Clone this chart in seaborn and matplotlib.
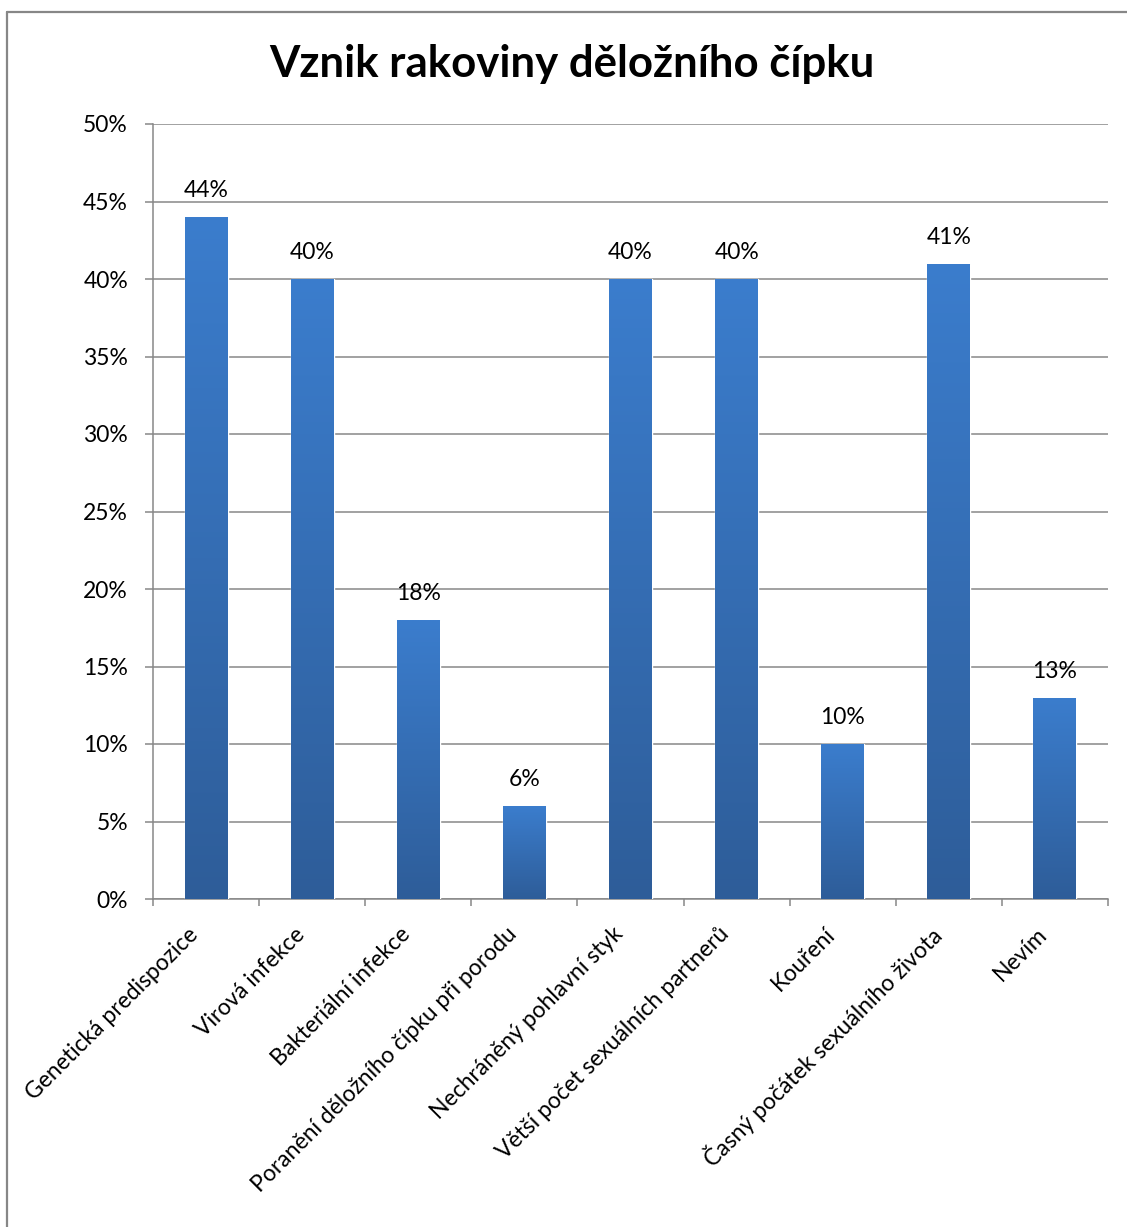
import numpy as np
import pandas as pd
import matplotlib
matplotlib.use("Agg")
import matplotlib.pyplot as plt
from matplotlib.lines import Line2D
from matplotlib.colors import LinearSegmentedColormap
from matplotlib.ticker import FixedLocator, PercentFormatter
import seaborn as sns

categories = [
    "Genetická predispozice",
    "Virová infekce",
    "Bakteriální infekce",
    "Poranění děložního čípku při porodu",
    "Nechráněný pohlavní styk",
    "Větší počet sexuálních partnerů",
    "Kouření",
    "Časný počátek sexuálního života",
    "Nevím",
]
values = [0.44, 0.40, 0.18, 0.06, 0.40, 0.40, 0.10, 0.41, 0.13]
value_labels = ["44%", "40%", "18%", "6%", "40%", "40%", "10%", "41%", "13%"]
title = "Vznik rakoviny děložního čípku"

sns.set_theme(style="white")
plt.rcParams["font.family"] = ["Lato", "DejaVu Sans"]

W, H = 1127, 1227
fig = plt.figure(figsize=(W / 100, H / 100), dpi=100)
ax = fig.add_axes([153 / W, 1 - 899 / H, (1108 - 153) / W, (899 - 124) / H])

df = pd.DataFrame({"cat": categories, "val": values})
sns.barplot(data=df, x="cat", y="val", ax=ax, color="#3471BA", width=0.405,
            saturation=1, zorder=3)

# vertical gradient per bar
cmap = LinearSegmentedColormap.from_list("g", ["#2E5D99", "#3B7DCD"])
grad = np.linspace(0, 1, 256).reshape(-1, 1)
for p in ax.patches:
    x0, y0 = p.get_x(), p.get_y()
    w, h = p.get_width(), p.get_height()
    im = ax.imshow(grad, cmap=cmap, aspect="auto", origin="lower",
                   extent=[x0, x0 + w, y0, y0 + h], zorder=4)
    im.set_clip_path(p)

ax.set_xlim(-0.5, len(categories) - 0.5)
ax.set_ylim(0, 0.5)
ax.yaxis.set_major_locator(FixedLocator(np.arange(0, 0.501, 0.05)))
ax.yaxis.set_major_formatter(PercentFormatter(1.0, decimals=0))
ax.set_xlabel("")
ax.set_ylabel("")

gray = "#878787"
ax.grid(axis="y", color=gray, linewidth=1.1, zorder=0)
ax.set_axisbelow(True)
for s in ["top", "right"]:
    ax.spines[s].set_visible(False)
for s in ["left", "bottom"]:
    ax.spines[s].set_color(gray)
    ax.spines[s].set_linewidth(1.1)

ax.tick_params(axis="y", which="major", left=True, length=6, width=1.1,
               color=gray, labelsize=16.5, pad=12, labelcolor="black")
ax.set_xticks(np.arange(-0.5, len(categories), 1.0), minor=True)
ax.tick_params(axis="x", which="minor", bottom=True, length=5, width=1.1,
               color=gray)
ax.tick_params(axis="x", which="major", bottom=False, length=0)
ax.set_xticklabels([])

# rotated category labels
for i, c in enumerate(categories):
    ax.annotate(c, xy=(i, 0), xycoords=("data", "axes fraction"),
                xytext=(-8, -23), textcoords="offset points",
                rotation=45, rotation_mode="anchor", ha="right", va="center",
                fontsize=16.5, color="black")

# value labels
for i, (v, lab) in enumerate(zip(values, value_labels)):
    ax.annotate(lab, xy=(i, v), xytext=(0, 19), textcoords="offset points",
                ha="center", va="center", fontsize=16.5, color="black")

fig.text(572 / W, 1 - 64 / H, title, ha="center", va="center",
         fontsize=31.5, fontweight="bold", color="black")

# outer chart border
fig.add_artist(Line2D([7 / W, 7 / W], [0, 1 - 12 / H], color=gray, lw=1.6,
                      transform=fig.transFigure))
fig.add_artist(Line2D([7 / W, 1], [1 - 12 / H, 1 - 12 / H], color=gray, lw=1.6,
                      transform=fig.transFigure))

fig.savefig("out.png", dpi=100)
